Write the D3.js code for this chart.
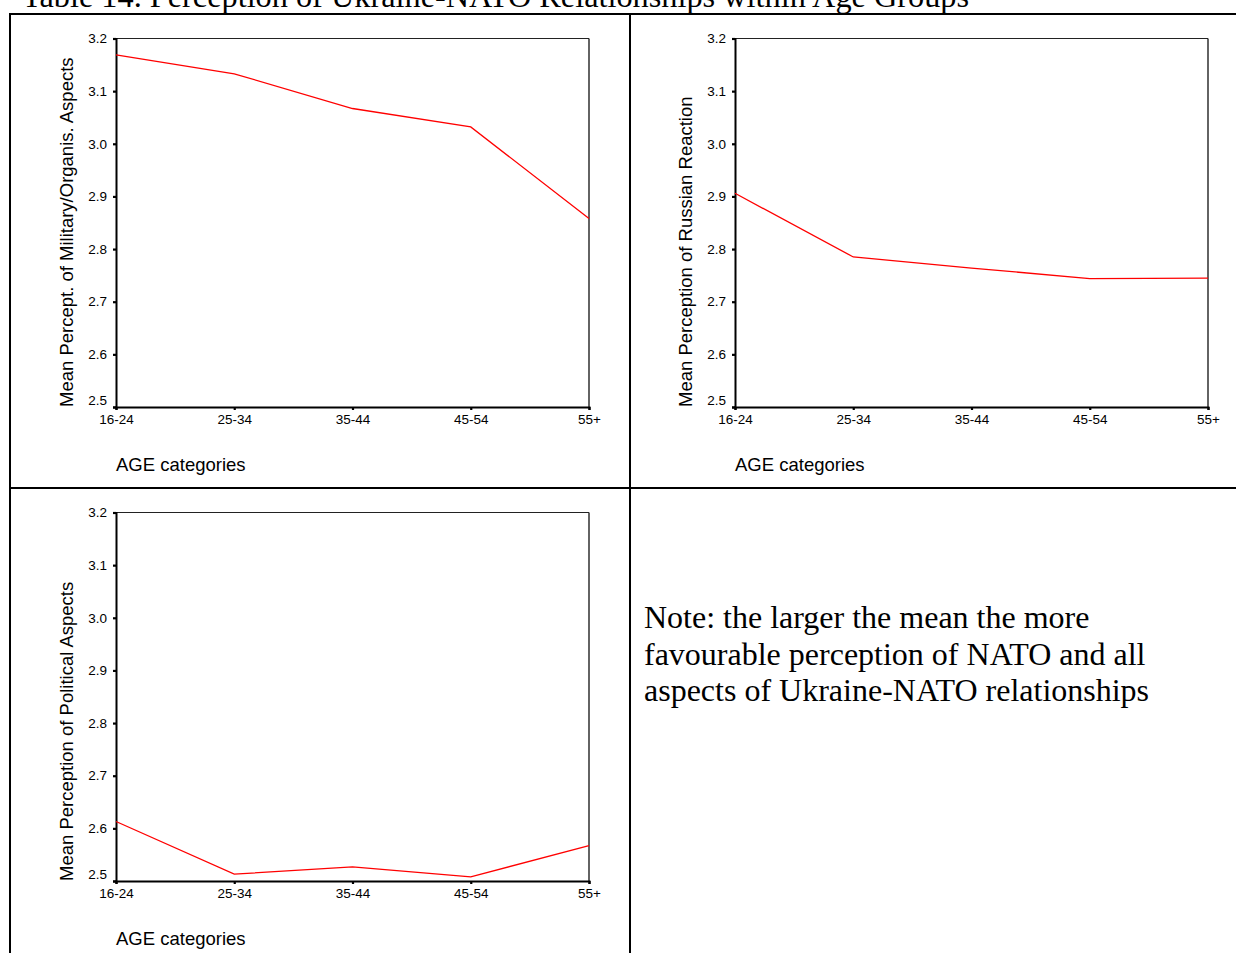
<!DOCTYPE html>
<html>
<head>
<meta charset="utf-8">
<script src="https://cdn.jsdelivr.net/npm/d3@7"></script>
<style>
  html, body { margin: 0; padding: 0; background: #fff; }
  svg { display: block; }
</style>
</head>
<body>
<svg id="chart" width="1236" height="953"></svg>
<script>
// ---- Data ----
const categories = ["16-24", "25-34", "35-44", "45-54", "55+"];
const militaryValues = [3.169, 3.133, 3.067, 3.032, 2.858];
const russianValues = [2.906, 2.785, 2.764, 2.744, 2.745];
const politicalValues = [2.613, 2.513, 2.527, 2.508, 2.567];
const yTickValues = [2.5, 2.6, 2.7, 2.8, 2.9, 3.0, 3.1, 3.2];
const yDomain = [2.5, 3.2];
const yTitles = [
  "Mean Percept. of Military/Organis. Aspects",
  "Mean Perception of Russian Reaction",
  "Mean Perception of Political Aspects"
];
const xTitle = "AGE categories";
const titleText = "Table 14. Perception of Ukraine-NATO Relationships within Age Groups";
const noteLines = [
  "Note: the larger the mean the more",
  "favourable perception of NATO and all",
  "aspects of Ukraine-NATO relationships"
];

(function () {
const svg = d3.select("#chart");
svg.append("rect").attr("width", 1236).attr("height", 953).attr("fill", "#fff");

// Title (partially cut off at top, as in the source)
svg.append("text")
  .attr("x", 22).attr("y", 6.5)
  .attr("font-family", "'Liberation Serif', 'Times New Roman', serif")
  .attr("font-size", 32.3)
  .attr("fill", "#000")
  .text(titleText);

// Table grid lines
const grid = svg.append("g").attr("stroke", "#000").attr("stroke-width", 2);
grid.append("line").attr("x1", 10).attr("x2", 10).attr("y1", 13).attr("y2", 953);
grid.append("line").attr("x1", 9).attr("x2", 1236).attr("y1", 14).attr("y2", 14);
grid.append("line").attr("x1", 630).attr("x2", 630).attr("y1", 13).attr("y2", 953);
grid.append("line").attr("x1", 9).attr("x2", 1236).attr("y1", 488).attr("y2", 488);

// Note text
const note = svg.append("text")
  .attr("font-family", "'Liberation Serif', 'Times New Roman', serif")
  .attr("font-size", 32)
  .attr("fill", "#000");
noteLines.forEach((l, i) => {
  note.append("tspan").attr("x", 644).attr("y", 628 + i * 36.5).text(l);
});

// Panels
const panels = [
  { dx: 0, dy: 0, values: militaryValues, title: yTitles[0] },
  { dx: 619, dy: 0, values: russianValues, title: yTitles[1] },
  { dx: 0, dy: 474, values: politicalValues, title: yTitles[2] }
];

const pLeft = 116, pRight = 589, pTop = 38.5, pBottom = 407;
const sans = "'Liberation Sans', Arial, sans-serif";

panels.forEach(p => {
  const g = svg.append("g").attr("transform", `translate(${p.dx},${p.dy})`);
  const x = d3.scalePoint().domain(categories).range([pLeft, pRight]).padding(0);
  const y = d3.scaleLinear().domain(yDomain).range([pBottom, pTop]);

  // frame top/right (thin)
  g.append("line").attr("x1", pLeft).attr("x2", pRight).attr("y1", pTop).attr("y2", pTop)
    .attr("stroke", "#222").attr("stroke-width", 1.2);
  g.append("line").attr("x1", pRight).attr("x2", pRight).attr("y1", pTop).attr("y2", pBottom)
    .attr("stroke", "#222").attr("stroke-width", 1.4);

  // Y axis
  const ya = g.append("g").attr("transform", `translate(${pLeft},0)`)
    .call(d3.axisLeft(y).tickValues(yTickValues).tickFormat(d3.format(".1f")).tickSize(3).tickPadding(6));
  ya.select(".domain").attr("stroke", "#000").attr("stroke-width", 2);
  ya.selectAll(".tick line").attr("stroke", "#000").attr("stroke-width", 2.2);
  ya.selectAll(".tick text")
    .attr("font-family", sans).attr("font-size", 12.5).attr("fill", "#000")
    .attr("dy", d => d === 2.5 ? "-0.2em" : "0.34em");

  // X axis
  const xa = g.append("g").attr("transform", `translate(0,${pBottom})`)
    .call(d3.axisBottom(x).tickSize(3).tickPadding(5));
  xa.select(".domain").attr("stroke", "#000").attr("stroke-width", 2);
  xa.selectAll(".tick line").attr("stroke", "#000").attr("stroke-width", 2.2);
  xa.selectAll(".tick text")
    .attr("font-family", sans).attr("font-size", 12.5).attr("fill", "#000");

  // widen tick labels slightly (source rendering is horizontally stretched)
  g.selectAll(".tick text").each(function() {
    const w = this.getComputedTextLength();
    d3.select(this).attr("textLength", w * 1.08).attr("lengthAdjust", "spacingAndGlyphs");
  });

  // Line
  const line = d3.line().x((d, i) => x(categories[i])).y(d => y(d));
  g.append("path").datum(p.values)
    .attr("d", line)
    .attr("fill", "none")
    .attr("stroke", "#ff0000")
    .attr("stroke-width", 1.3);

  // Y title
  g.append("text")
    .attr("transform", `translate(73,${pBottom}) rotate(-90)`)
    .attr("font-family", sans).attr("font-size", 18.5).attr("fill", "#000")
    .attr("text-anchor", "start")
    .text(p.title);

  // X title
  g.append("text")
    .attr("x", pLeft).attr("y", 471)
    .attr("font-family", sans).attr("font-size", 18.5).attr("fill", "#000")
    .text(xTitle);
});
})();
</script>
</body>
</html>
